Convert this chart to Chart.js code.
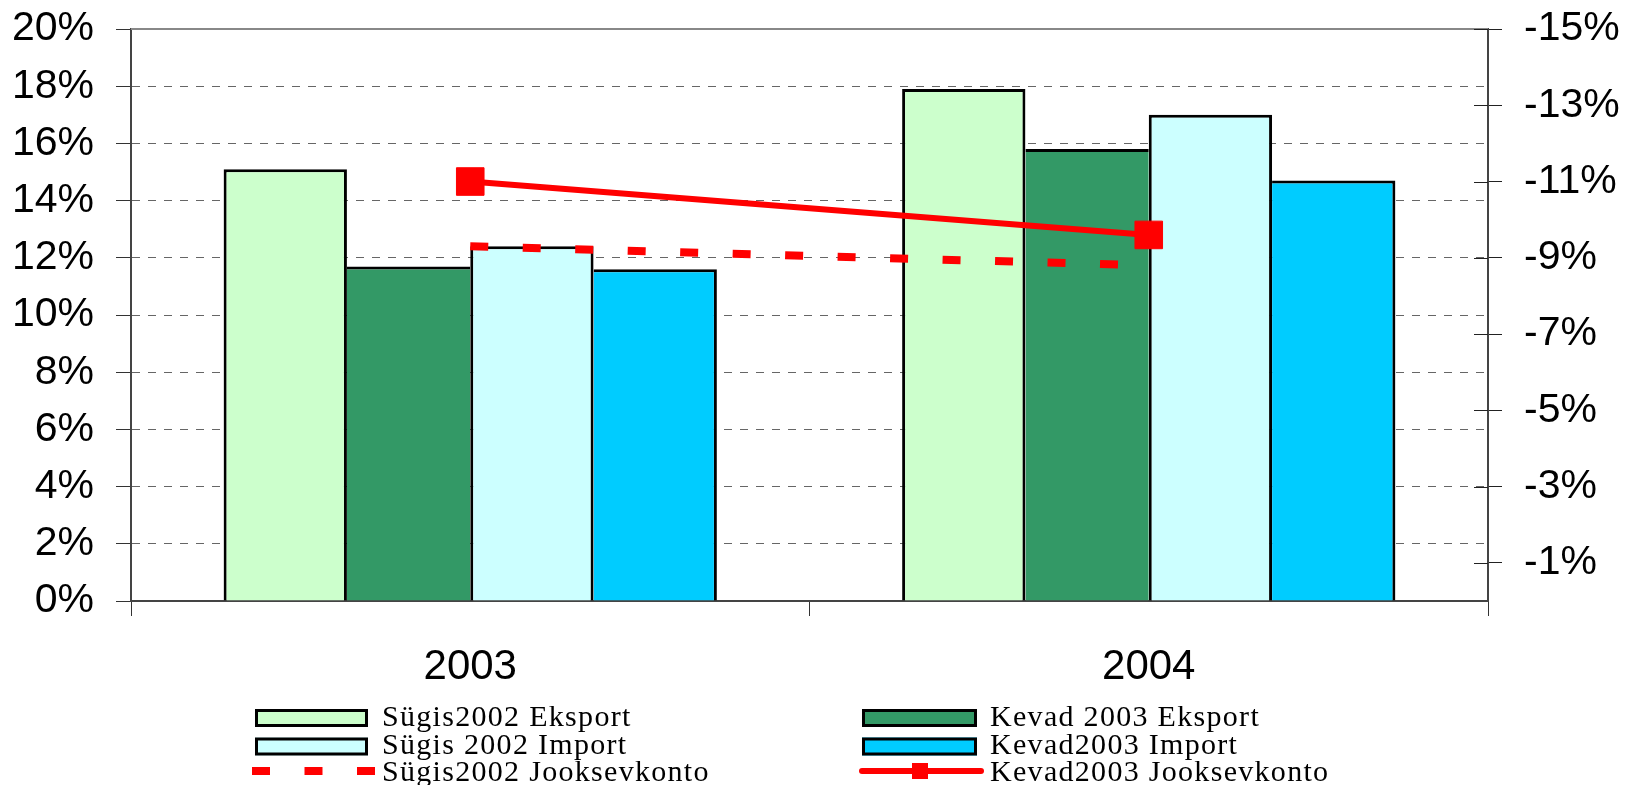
<!DOCTYPE html>
<html><head><meta charset="utf-8">
<script src="https://cdn.jsdelivr.net/npm/chart.js@4.4.1/dist/chart.umd.min.js"></script>
<style>html,body{margin:0;padding:0;background:#fff;overflow:hidden}canvas{display:block}</style>
</head><body>
<canvas id="c" width="1626" height="785"></canvas>
<script>
const categories = ['2003', '2004'];
const sugis2002Eksport = [15.1, 17.9];
const kevad2003Eksport = [11.7, 15.8];
const sugis2002Import = [12.4, 17.0];
const kevad2003Import = [11.6, 14.7];
const sugis2002Jooksevkonto = [-9.3, -8.8];
const kevad2003Jooksevkonto = [-11.0, -9.6];
const leftTicks = [0, 2, 4, 6, 8, 10, 12, 14, 16, 18, 20];
const rightTicks = [-15, -13, -11, -9, -7, -5, -3, -1];
const seriesNames = ['Sügis2002 Eksport', 'Kevad 2003 Eksport', 'Sügis 2002 Import', 'Kevad2003 Import', 'Sügis2002 Jooksevkonto', 'Kevad2003 Jooksevkonto'];

const BW = 3;
function barBorder(ctx) {
  const ds = ctx.chart.data.datasets;
  const i = ctx.datasetIndex, j = ctx.dataIndex;
  const v = ds[i].data[j];
  let left = BW, right = BW;
  if (i > 0 && ds[i - 1].data[j] > v) left = 0;
  if (i < 3 && ds[i + 1].data[j] >= v) right = 0;
  return {top: BW, left: left, right: right, bottom: 0};
}

const axisFont = {family: '"Liberation Sans", Arial, sans-serif', size: 41, lineHeight: 0.25};

const extras = {
  id: 'extras',
  beforeDraw(chart) {
    const c = chart.ctx;
    c.save(); c.fillStyle = '#fff'; c.fillRect(0, 0, chart.width, chart.height); c.restore();
  },
  beforeDatasetsDraw(chart) {
    const c = chart.ctx, a = chart.chartArea;
    c.save();
    c.strokeStyle = '#888'; c.lineWidth = 2;
    c.beginPath(); c.moveTo(a.left, a.top); c.lineTo(a.right, a.top); c.stroke();
    c.restore();
  },
  afterDraw(chart) {
    const c = chart.ctx, a = chart.chartArea;
    const y2 = chart.scales.y2;
    c.save();
    c.strokeStyle = '#222'; c.lineWidth = 1;
    rightTicks.forEach(v => {
      const y = Math.round(y2.getPixelForValue(v)) + 0.5;
      c.beginPath(); c.moveTo(a.right - 14, y); c.lineTo(a.right, y); c.stroke();
    });
    // legend
    const ds = chart.data.datasets;
    const cols = [{sx: 255, sw: 113, tx: 382}, {sx: 862, sw: 115, tx: 990}];
    const rows = [{top: 709, base: 726}, {top: 737.5, base: 754}, {top: 765, base: 781}];
    const order = [[0, 0, 0], [1, 1, 0], [2, 0, 1], [3, 1, 1], [4, 0, 2], [5, 1, 2]];
    c.font = '30px "Liberation Serif", "Times New Roman", serif';
    try { c.letterSpacing = '1.3px'; } catch (e) {}
    order.forEach(([di, ci, ri]) => {
      const col = cols[ci], row = rows[ri], d = ds[di];
      if (d.type === 'line') {
        const yc = 771;
        c.save();
        c.strokeStyle = d.borderColor;
        if (d.borderDash && d.borderDash.length) {
          c.lineWidth = 8; c.lineCap = 'butt'; c.setLineDash(d.borderDash);
          c.beginPath(); c.moveTo(252, yc); c.lineTo(376, yc); c.stroke();
        } else {
          c.lineWidth = 6; c.lineCap = 'round';
          c.beginPath(); c.moveTo(col.sx, yc); c.lineTo(col.sx + 119, yc); c.stroke();
          c.fillStyle = d.pointBackgroundColor;
          c.fillRect(col.sx + 50, yc - 8, 16, 16);
        }
        c.restore();
      } else {
        c.save();
        c.fillStyle = d.backgroundColor;
        c.fillRect(col.sx, row.top, col.sw, 18);
        c.strokeStyle = '#000'; c.lineWidth = 3;
        c.strokeRect(col.sx + 1.5, row.top + 1.5, col.sw - 3, 15);
        c.restore();
      }
      c.fillStyle = '#000';
      c.textBaseline = 'alphabetic'; c.textAlign = 'left';
      c.fillText(d.label, col.tx, row.base);
    });
    c.restore();
  }
};

new Chart(document.getElementById('c'), {
  type: 'bar',
  data: {
    labels: categories,
    datasets: [
      {label: seriesNames[0], data: sugis2002Eksport, backgroundColor: '#CCFFCC', borderColor: '#000', borderWidth: barBorder, borderSkipped: false, order: 2},
      {label: seriesNames[1], data: kevad2003Eksport, backgroundColor: '#339966', borderColor: '#000', borderWidth: barBorder, borderSkipped: false, order: 2},
      {label: seriesNames[2], data: sugis2002Import, backgroundColor: '#CCFFFF', borderColor: '#000', borderWidth: barBorder, borderSkipped: false, order: 2},
      {label: seriesNames[3], data: kevad2003Import, backgroundColor: '#00CCFF', borderColor: '#000', borderWidth: barBorder, borderSkipped: false, order: 2},
      {type: 'line', label: seriesNames[4], data: sugis2002Jooksevkonto, yAxisID: 'y2', borderColor: '#FF0000', borderWidth: 8, borderDash: [18, 34.5], borderCapStyle: 'butt', pointRadius: 0, fill: false, order: 1},
      {type: 'line', label: seriesNames[5], data: kevad2003Jooksevkonto, yAxisID: 'y2', borderColor: '#FF0000', borderWidth: 6, pointStyle: 'rect', pointRadius: 19.5, pointBackgroundColor: '#FF0000', pointBorderColor: '#FF0000', pointBorderWidth: 1, fill: false, order: 0}
    ]
  },
  options: {
    responsive: false,
    animation: false,
    devicePixelRatio: 1,
    layout: {padding: {top: 29, left: 0, right: 0, bottom: 0}},
    categoryPercentage: 0.727,
    barPercentage: 1.0,
    plugins: {legend: {display: false}, tooltip: {enabled: false}},
    scales: {
      x: {
        offset: true,
        grid: {offset: true, drawOnChartArea: false, drawTicks: true, tickLength: 15, tickColor: '#333', tickWidth: 1},
        border: {display: true, color: '#444', width: 2},
        ticks: {font: {family: '"Liberation Sans", Arial, sans-serif', size: 42}, color: '#000', padding: 26, maxRotation: 0},
        afterFit(s) { s.height = 184; }
      },
      y: {
        position: 'left',
        min: 0, max: 20,
        afterBuildTicks(s) { s.ticks = leftTicks.map(v => ({value: v})); },
        grid: {
          color: c => (c.tick && (c.tick.value === 0 || c.tick.value === 20)) ? 'rgba(0,0,0,0)' : '#666',
          lineWidth: 1, drawTicks: true, tickLength: 15, tickColor: '#333', tickWidth: 1, tickBorderDash: []
        },
        border: {display: true, color: '#444', width: 2, dash: [8, 8]},
        ticks: {font: axisFont, color: '#000', padding: 22, callback: v => v + '%'},
        afterFit(s) { s.width = 131; }
      },
      y2: {
        position: 'right',
        reverse: true,
        min: -15, max: 0,
        afterBuildTicks(s) { s.ticks = rightTicks.map(v => ({value: v})); },
        grid: {drawOnChartArea: false, drawTicks: true, tickLength: 14, tickColor: '#222', tickWidth: 1},
        border: {display: true, color: '#444', width: 2},
        ticks: {font: axisFont, color: '#000', padding: 22, callback: v => v + '%'},
        afterFit(s) { s.width = 138; }
      }
    }
  },
  plugins: [extras]
});
</script>
</body></html>
